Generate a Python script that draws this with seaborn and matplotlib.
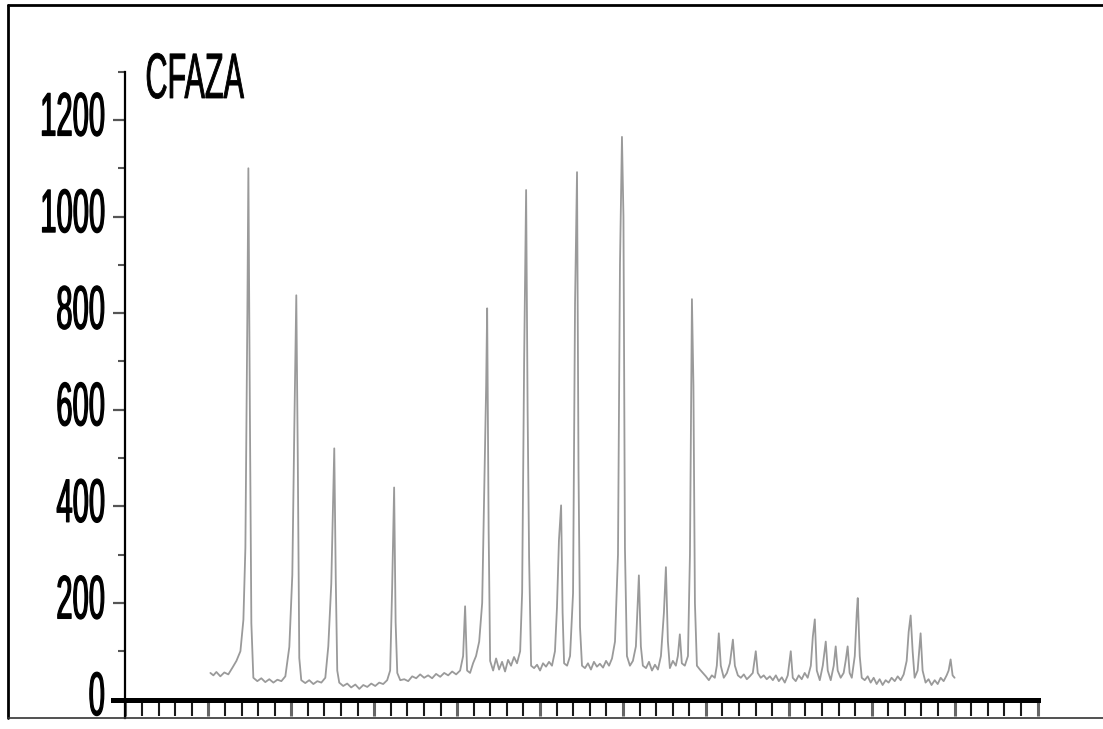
import matplotlib
matplotlib.use("Agg")
import matplotlib.pyplot as plt
import matplotlib.patheffects as pe
from matplotlib.lines import Line2D
from matplotlib.transforms import Affine2D
import seaborn as sns

# ----------------------------
# Data (x in minor-tick units, y in counts)
# ----------------------------
trace_x = [
    5.12, 5.30, 5.48, 5.72, 5.96, 6.20, 6.45, 6.69, 6.93, 7.11, 7.23, 7.35, 7.41, 7.50, 7.59, 7.71,
    7.95, 8.19, 8.43, 8.67, 8.92, 9.16, 9.40, 9.64, 9.88, 10.06, 10.18, 10.30, 10.39, 10.48, 10.60,
    10.84, 11.08, 11.33, 11.57, 11.81, 12.05, 12.23, 12.41, 12.53, 12.59, 12.68, 12.77, 12.89,
    13.13, 13.37, 13.61, 13.86, 14.10, 14.34, 14.58, 14.82, 15.06, 15.30, 15.54, 15.78, 15.96,
    16.08, 16.20, 16.29, 16.39, 16.57,
    16.81, 17.05, 17.29, 17.53, 17.77, 18.01, 18.25, 18.49, 18.73, 18.98, 19.22, 19.46, 19.70,
    19.94, 20.18, 20.36, 20.48, 20.60, 20.78, 20.96, 21.14, 21.33, 21.51, 21.63, 21.75, 21.81,
    21.90, 21.99, 22.17,
    22.35, 22.53, 22.71, 22.89, 23.07, 23.25, 23.43, 23.61, 23.80, 23.92, 24.04, 24.16, 24.25,
    24.34, 24.46,
    24.64, 24.82, 25.00, 25.18, 25.36, 25.54, 25.72, 25.90, 26.02, 26.14, 26.27, 26.36, 26.45,
    26.63, 26.81, 26.99, 27.11, 27.23, 27.32, 27.41, 27.53,
    27.71, 27.89, 28.07, 28.25, 28.43, 28.61, 28.80, 28.98, 29.16, 29.34, 29.52, 29.70, 29.82,
    29.94, 30.03, 30.12, 30.24, 30.42, 30.60, 30.78, 30.96, 31.08, 31.20, 31.39, 31.57, 31.75,
    31.93, 32.11, 32.29, 32.47, 32.59, 32.71, 32.83, 33.01, 33.19, 33.31, 33.43, 33.55, 33.73,
    33.92, 34.04, 34.16, 34.25, 34.34, 34.46,
    34.64, 34.82, 35.00, 35.18, 35.36, 35.54, 35.66, 35.78, 35.90, 36.08, 36.27, 36.45, 36.63,
    36.75, 36.93, 37.11, 37.29, 37.47, 37.65, 37.83, 38.01, 38.13, 38.31, 38.49, 38.67, 38.86,
    39.04, 39.22, 39.40, 39.58, 39.76, 39.94, 40.12, 40.24, 40.42, 40.60, 40.78, 40.96, 41.14,
    41.33, 41.45, 41.57, 41.69, 41.87, 42.05, 42.23, 42.35, 42.53, 42.71, 42.83, 42.95, 43.13,
    43.31, 43.43, 43.55, 43.67, 43.80, 43.98, 44.10, 44.16, 44.28, 44.40, 44.58, 44.76, 44.94,
    45.12, 45.30, 45.48, 45.66, 45.84, 46.02, 46.20, 46.39, 46.57, 46.75, 46.93, 47.11, 47.23,
    47.35, 47.47, 47.59, 47.77, 47.95, 48.07, 48.25, 48.43, 48.61, 48.80, 48.98, 49.16, 49.34,
    49.52, 49.64, 49.76, 49.88, 50.00,
]
trace_y = [
    55, 50, 57, 48, 56, 52, 66, 80, 100, 165, 314, 800, 1100, 600, 158, 45,
    38, 44, 36, 42, 35, 41, 38, 48, 109, 258, 560, 837, 500, 86, 40,
    34, 40, 32, 38, 35, 45, 110, 240, 420, 520, 250, 60, 35,
    28, 33, 25, 31, 22, 30, 26, 33, 28, 35, 32, 40, 60,
    230, 439, 160, 55, 40,
    42, 38, 48, 44, 52, 45, 50, 44, 53, 47, 55, 50, 58,
    52, 60, 90, 193, 60, 55, 75, 90, 120, 200, 420, 650, 810,
    350, 80, 60,
    85, 62, 78, 58, 82, 70, 88, 75, 100, 222, 700, 1055, 600,
    294, 70,
    65, 72, 60, 75, 68, 78, 70, 100, 190, 330, 402, 180, 75,
    70, 90, 220, 820, 1092, 475, 150, 70,
    65, 75, 62, 78, 68, 74, 66, 80, 70, 85, 120, 300, 900,
    1165, 1000, 313, 90, 70, 80, 110, 257, 110, 70, 65, 78, 60,
    72, 62, 90, 180, 274, 120, 65, 80, 70, 90, 135, 75, 70,
    90, 300, 829, 650, 200, 70,
    62, 55, 48, 40, 50, 45, 70, 137, 70, 45, 55, 75, 124,
    70, 50, 45, 52, 42, 48, 55, 100, 55, 45, 50, 42, 48,
    40, 50, 38, 46, 35, 50, 100, 45, 38, 50, 42, 55, 45,
    70, 130, 166, 60, 40, 70, 120, 60, 40, 70, 110, 60, 45,
    55, 80, 110, 55, 45, 90, 180, 210, 90, 45, 40, 48, 35,
    45, 32, 42, 30, 40, 35, 45, 38, 48, 40, 52, 80, 140,
    174, 100, 45, 60, 137, 60, 35, 42, 30, 40, 32, 45, 38,
    50, 60, 83, 50, 45,
]

x_major = [0, 5, 10, 15, 20, 25, 30, 35, 40, 45, 50, 55]
x_minor = [1, 2, 3, 4, 6, 7, 8, 9, 11, 12, 13, 14, 16, 17, 18, 19, 21, 22, 23, 24,
           26, 27, 28, 29, 31, 32, 33, 34, 36, 37, 38, 39, 41, 42, 43, 44, 46, 47, 48, 49,
           51, 52, 53, 54]
y_major = [0, 200, 400, 600, 800, 1000, 1200]
y_labels = ["0", "200", "400", "600", "800", "1000", "1200"]
y_minor = [100, 300, 500, 700, 900, 1100, 1300]
panel_label = "CFAZA"


class VStretch(pe.AbstractPathEffect):
    # the source uses a squeezed Arial-like face: draw the glyphs taller than wide
    def __init__(self, factor, about=0.0, stroke=0.0):
        super().__init__()
        self.factor = factor
        self.about = about
        self.stroke = stroke

    def draw_path(self, renderer, gc, tpath, affine, rgbFace=None):
        stretch = Affine2D().translate(0, -self.about).scale(1, self.factor).translate(0, self.about)
        gc0 = renderer.new_gc()
        gc0.copy_properties(gc)
        if self.stroke > 0 and rgbFace is not None:
            gc0.set_linewidth(self.stroke)
            gc0.set_foreground(rgbFace)
        renderer.draw_path(gc0, tpath, stretch + affine, rgbFace)
        gc0.restore()


sns.set_style("white")
plt.rcParams["font.family"] = ["Liberation Sans", "DejaVu Sans"]

fig = plt.figure(figsize=(11.03, 7.29), dpi=100)
ax = fig.add_axes([0.11378, 0.01509, 0.82684, 0.88656])

sns.lineplot(x=trace_x, y=trace_y, ax=ax, estimator=None, sort=False,
             color="#9a9a9a", linewidth=1.3)

ax.set_xlim(0, 55)
ax.set_ylim(-38.3, 1300)

# axes look
ax.spines["top"].set_visible(False)
ax.spines["right"].set_visible(False)
ax.spines["left"].set_color("black")
ax.spines["left"].set_linewidth(1.6)
ax.spines["bottom"].set_position(("data", 0))
ax.spines["bottom"].set_bounds(-0.75, 55)
ax.spines["bottom"].set_color("black")
ax.spines["bottom"].set_linewidth(3.6)

ax.set_xticks(x_major)
ax.set_xticks(x_minor, minor=True)
ax.tick_params(axis="x", which="major", direction="out", length=11.2, width=2.2,
               color="#666666", labelbottom=False, bottom=True)
ax.tick_params(axis="x", which="minor", direction="out", length=11.2, width=1.5,
               color="#1a1a1a", bottom=True)

ax.set_yticks(y_major, labels=y_labels)
ax.set_yticks(y_minor, minor=True)
ax.tick_params(axis="y", which="major", direction="out", length=8.6, width=1.6,
               color="#555555", pad=6.3, labelsize=21, labelcolor="black", left=True)
ax.tick_params(axis="y", which="minor", direction="out", length=4.8, width=1.5,
               color="#555555", left=True)
for lab in ax.get_yticklabels():
    lab.set_path_effects([VStretch(2.1, 14, stroke=0.9)])

ax.set_xlabel("")
ax.set_ylabel("")

ax.text(0.0219, 0.9593, panel_label, transform=ax.transAxes, ha="left", va="baseline",
        fontsize=22, color="black", path_effects=[VStretch(2.1, 0, stroke=0.6)])

# frame around the picture
fig.add_artist(Line2D([0.0068, 0.0068], [0.0151, 0.9931], transform=fig.transFigure,
                      color="black", linewidth=2.0))
fig.add_artist(Line2D([0.0068, 1.0], [0.9931, 0.9931], transform=fig.transFigure,
                      color="black", linewidth=2.0))
fig.add_artist(Line2D([0.0068, 1.0], [0.0151, 0.0151], transform=fig.transFigure,
                      color="#333333", linewidth=1.2))

fig.savefig("out.png", dpi=100)
plt.close(fig)
